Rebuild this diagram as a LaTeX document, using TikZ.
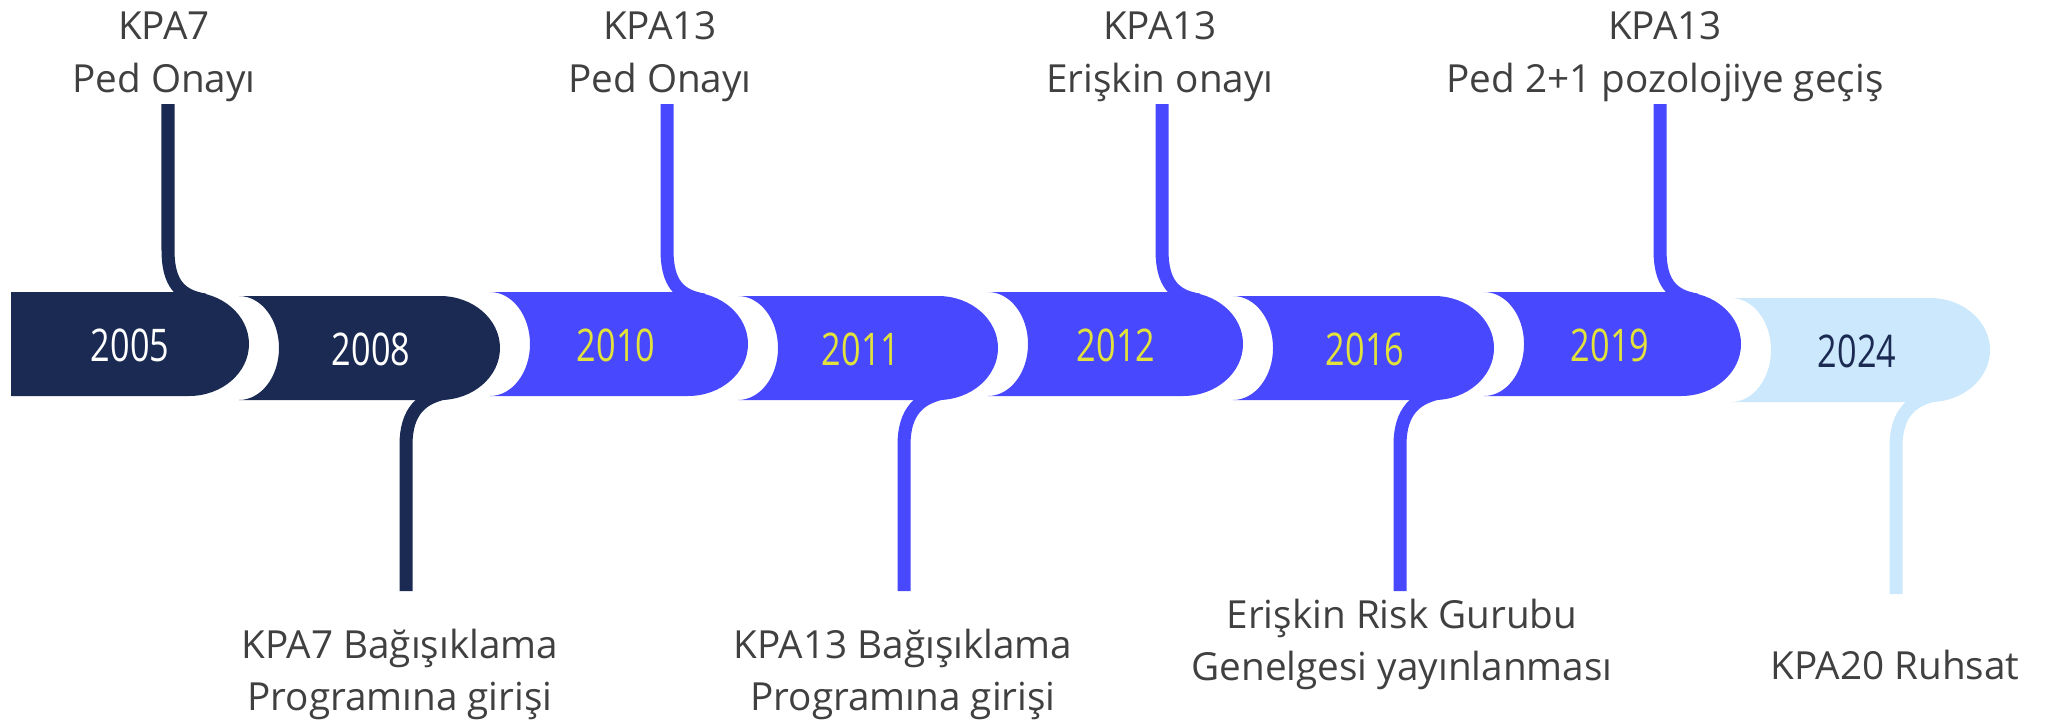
\documentclass[tikz,border=0pt]{standalone}
\usepackage{fontspec}
\setmainfont{Open Sans}
\newfontfamily\yearfont[FakeStretch=0.76]{Open Sans}
\definecolor{navy}{HTML}{1B2A52}
\definecolor{vivid}{HTML}{4848FF}
\definecolor{pale}{HTML}{CCE8FC}
\definecolor{gold}{HTML}{E2E23A}
\definecolor{labelgrey}{HTML}{404040}
\begin{document}
\begin{tikzpicture}[x=0.01cm,y=-0.01cm,
  pin/.style={line width=3.7pt},
  year/.style={font=\yearfont\fontsize{12.8}{14}\selectfont, inner sep=0pt},
  event/.style={font=\fontsize{11}{15}\selectfont, text=labelgrey, align=center, inner sep=0pt}]
\useasboundingbox (0,0) rectangle (2046,721);
% year bands
\fill[navy] (11,292) -- (189,292) arc[start angle=-90,end angle=90,x radius=60,y radius=52] -- (11,396) -- cycle;
\fill[navy] (239,296) -- (440,296) arc[start angle=-90,end angle=90,x radius=60,y radius=52] -- (239,400) arc[start angle=90,end angle=-90,x radius=40,y radius=52] -- cycle;
\fill[vivid] (490,292) -- (688,292) arc[start angle=-90,end angle=90,x radius=60,y radius=52] -- (490,396) arc[start angle=90,end angle=-90,x radius=40,y radius=52] -- cycle;
\fill[vivid] (738,296) -- (938,296) arc[start angle=-90,end angle=90,x radius=60,y radius=52] -- (738,400) arc[start angle=90,end angle=-90,x radius=40,y radius=52] -- cycle;
\fill[vivid] (988,292) -- (1183,292) arc[start angle=-90,end angle=90,x radius=60,y radius=52] -- (988,396) arc[start angle=90,end angle=-90,x radius=40,y radius=52] -- cycle;
\fill[vivid] (1233,296) -- (1434,296) arc[start angle=-90,end angle=90,x radius=60,y radius=52] -- (1233,400) arc[start angle=90,end angle=-90,x radius=40,y radius=52] -- cycle;
\fill[vivid] (1484,292) -- (1681,292) arc[start angle=-90,end angle=90,x radius=60,y radius=52] -- (1484,396) arc[start angle=90,end angle=-90,x radius=40,y radius=52] -- cycle;
\fill[pale] (1731,298) -- (1930,298) arc[start angle=-90,end angle=90,x radius=60,y radius=52] -- (1731,402) arc[start angle=90,end angle=-90,x radius=40,y radius=52] -- cycle;
% years
\node[year, text=white] (y2005) at (130,345) {2005};
\node[year, text=white] (y2008) at (371,349) {2008};
\node[year, text=gold] (y2010) at (616,345) {2010};
\node[year, text=gold] (y2011) at (861,349) {2011};
\node[year, text=gold] (y2012) at (1116,345) {2012};
\node[year, text=gold] (y2016) at (1365,349) {2016};
\node[year, text=gold] (y2019) at (1610,345) {2019};
\node[year, text=navy] (y2024) at (1857,351) {2024};
% pins above
\draw[pin, navy] (168,104) -- (168,250) .. controls (168,283) and (180,296) .. (205,300);
\draw[pin, vivid] (667,104) -- (667,250) .. controls (667,283) and (679,296) .. (704,300);
\draw[pin, vivid] (1162,104) -- (1162,250) .. controls (1162,283) and (1174,296) .. (1199,300);
\draw[pin, vivid] (1660,104) -- (1660,250) .. controls (1660,283) and (1672,296) .. (1697,300);
% pins below
\draw[pin, navy] (406,591) -- (406,445) .. controls (406,412) and (421,396) .. (451,392);
\draw[pin, vivid] (904,591) -- (904,445) .. controls (904,412) and (919,396) .. (949,392);
\draw[pin, vivid] (1400,591) -- (1400,445) .. controls (1400,412) and (1415,396) .. (1445,392);
\draw[pin, pale] (1896,594) -- (1896,447) .. controls (1896,414) and (1911,398) .. (1941,394);
% events
\node[event, anchor=south] (e2005) at (164,102) {KPA7\\Ped Onayı};
\node[event, anchor=south] (e2010) at (660,102) {KPA13\\Ped Onayı};
\node[event, anchor=south] (e2012) at (1160,102) {KPA13\\Erişkin onayı};
\node[event, anchor=south] (e2019) at (1665,102) {KPA13\\Ped 2+1 pozolojiye geçiş};
\node[event, anchor=north] (e2008) at (400,628) {KPA7 Bağışıklama\\Programına girişi};
\node[event, anchor=north] (e2011) at (903,628) {KPA13 Bağışıklama\\Programına girişi};
\node[event, anchor=north] (e2016) at (1402,598) {Erişkin Risk Gurubu\\Genelgesi yayınlanması};
\node[event, anchor=north] (e2024) at (1895,649) {KPA20 Ruhsat};
\end{tikzpicture}
\end{document}
